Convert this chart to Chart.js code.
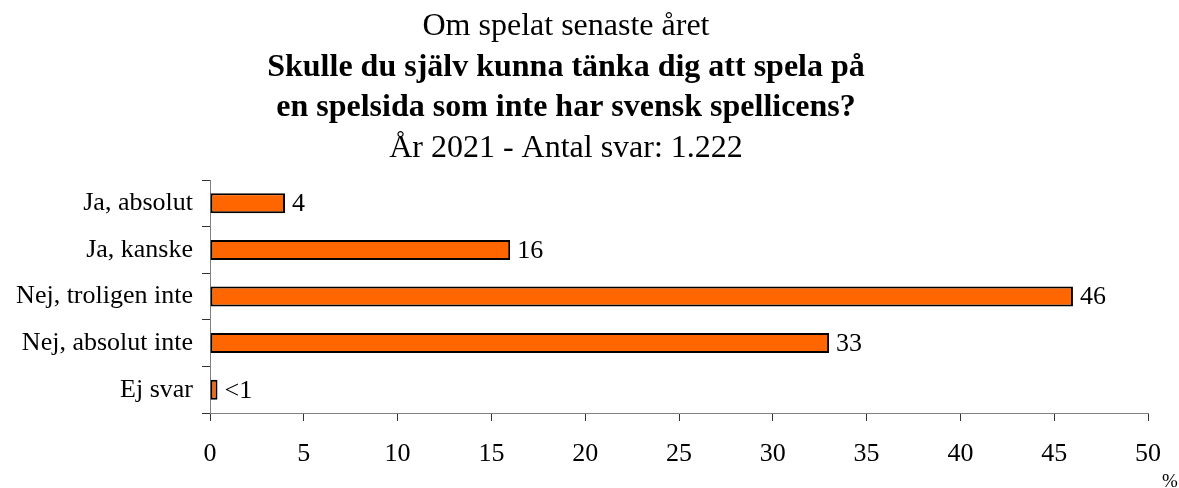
<!DOCTYPE html>
<html><head><meta charset="utf-8">
<script src="https://cdn.jsdelivr.net/npm/chart.js@4"></script>
<style>html,body{margin:0;padding:0;background:#fff}#w{width:1179px;height:488px}</style>
</head><body><div id="w"><canvas id="c" width="1179" height="488"></canvas></div>
<script>
const categories = ["Ja, absolut", "Ja, kanske", "Nej, troligen inte", "Nej, absolut inte", "Ej svar"];
const values = [4, 16, 46, 33, 0.4];
const valueLabels = ["4", "16", "46", "33", "<1"];
const titleLines = ["Om spelat senaste året", "Skulle du själv kunna tänka dig att spela på", "en spelsida som inte har svensk spellicens?", "År 2021 - Antal svar: 1.222"];
const titleBold = [false, true, true, false];
const axisUnit = "%";
const FONT = "'Liberation Serif', 'Times New Roman', serif";

const overlay = {
  id: 'overlay',
  afterDraw(chart) {
    const ctx = chart.ctx;
    ctx.save();
    ctx.fillStyle = '#000';
    ctx.textAlign = 'center';
    ctx.textBaseline = 'alphabetic';
    const ys = [35, 76, 116, 157];
    titleLines.forEach((t, i) => {
      ctx.font = (titleBold[i] ? 'bold ' : '') + '32px ' + FONT;
      ctx.fillText(t, 566, ys[i]);
    });
    const meta = chart.getDatasetMeta(0);
    ctx.font = '26px ' + FONT;
    ctx.textAlign = 'left';
    ctx.textBaseline = 'middle';
    meta.data.forEach((bar, i) => {
      ctx.fillText(valueLabels[i], bar.x + 7, bar.y + 1);
    });
    ctx.font = '19px ' + FONT;
    ctx.textAlign = 'center';
    ctx.textBaseline = 'alphabetic';
    ctx.fillText(axisUnit, 1170, 487);
    ctx.restore();
  }
};

new Chart(document.getElementById('c'), {
  type: 'bar',
  data: {
    labels: categories,
    datasets: [{
      data: values,
      backgroundColor: '#FF6600',
      borderColor: '#000',
      borderWidth: 2,
      borderSkipped: false,
      barPercentage: 0.86,
      categoryPercentage: 0.5
    }]
  },
  options: {
    indexAxis: 'y',
    responsive: false,
    animation: false,
    layout: { padding: { top: 180, right: 30, left: 0, bottom: 0 } },
    plugins: { legend: { display: false }, tooltip: { enabled: false }, title: { display: false } },
    scales: {
      x: {
        min: 0, max: 50,
        ticks: { stepSize: 5, color: '#000', font: { family: FONT, size: 26 }, padding: 18 },
        grid: { drawOnChartArea: false, drawTicks: true, tickLength: 8, color: '#333' },
        border: { display: true, color: '#808080', width: 1 },
        afterFit(s) { s.height = 75; }
      },
      y: {
        offset: true,
        ticks: { color: '#000', font: { family: FONT, size: 26 }, padding: 9 },
        grid: { offset: true, drawOnChartArea: false, drawTicks: true, tickLength: 8, color: '#333' },
        border: { display: true, color: '#808080', width: 1 },
        afterFit(s) { s.width = 210; }
      }
    }
  },
  plugins: [overlay]
});
</script>
</body></html>
